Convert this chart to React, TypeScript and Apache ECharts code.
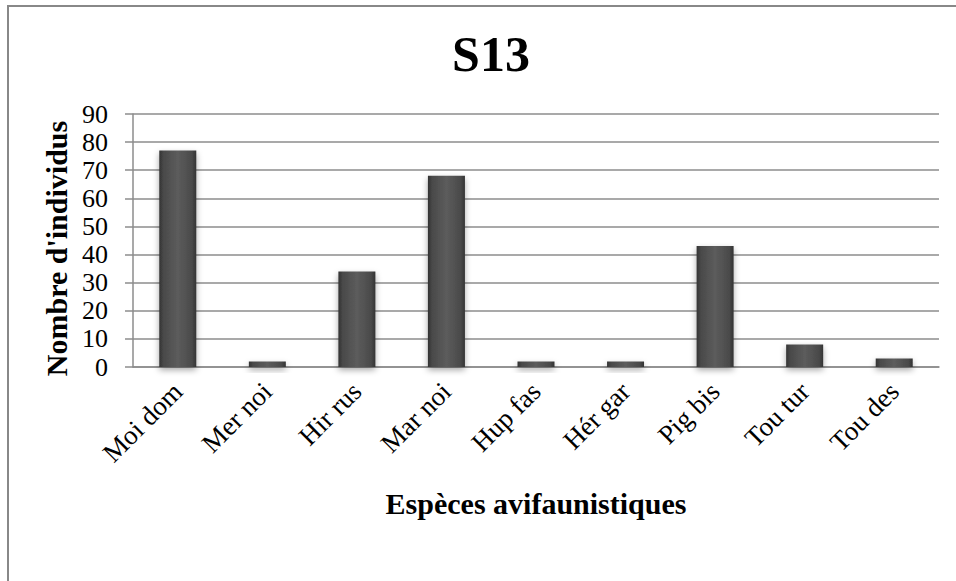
import React, { useEffect, useRef } from "react";
import * as echarts from "echarts";

const categories = ["Moi dom", "Mer noi", "Hir rus", "Mar noi", "Hup fas", "Hér gar", "Pig bis", "Tou tur", "Tou des"];
const values = [77, 2, 34, 68, 2, 2, 43, 8, 3];
const yTicks = { min: 0, max: 90, interval: 10 };
const titleText = "S13";
const yName = "Nombre d'individus";
const xName = "Espèces avifaunistiques";

const FONT = "'Liberation Serif', 'Times New Roman', serif";

export default function App() {
  const ref = useRef<HTMLDivElement>(null);
  useEffect(() => {
    if (!ref.current) return;
    const chart = echarts.init(ref.current, null, { renderer: "svg" });
    chart.setOption({
      animation: false,
      backgroundColor: "#ffffff",
      graphic: [
        {
          type: "rect",
          shape: { x: 8, y: 6, width: 970, height: 620 },
          style: { fill: "none", stroke: "#888888", lineWidth: 2 },
          silent: true,
        },
      ],
      title: {
        text: titleText,
        left: 486,
        top: 24,
        textAlign: "center",
        textStyle: { fontFamily: FONT, fontSize: 50, fontWeight: "bold", color: "#000" },
      },
      grid: { left: 133, right: 17, top: 114, bottom: 214, containLabel: false },
      xAxis: {
        type: "category",
        data: categories,
        name: xName,
        nameLocation: "middle",
        nameGap: 121,
        nameTextStyle: { fontFamily: FONT, fontSize: 30, fontWeight: "bold", color: "#000" },
        axisLine: { show: true, lineStyle: { color: "#8c8c8c", width: 1.5 } },
        axisTick: { show: false },
        axisLabel: {
          rotate: 45,
          margin: 20,
          interval: 0,
          fontFamily: FONT,
          fontSize: 27,
          color: "#000",
        },
      },
      yAxis: {
        type: "value",
        min: yTicks.min,
        max: yTicks.max,
        interval: yTicks.interval,
        name: yName,
        nameLocation: "middle",
        nameRotate: 90,
        nameGap: 61,
        nameTextStyle: { fontFamily: FONT, fontSize: 30, fontWeight: "bold", color: "#000", padding: [0, 16, 0, 0] },
        axisLine: { show: true, lineStyle: { color: "#8c8c8c", width: 1.5 } },
        axisTick: { show: true, inside: false, length: 8, lineStyle: { color: "#8c8c8c", width: 1.5 } },
        axisLabel: { fontFamily: FONT, fontSize: 26, color: "#000", margin: 25 },
        splitLine: { show: true, lineStyle: { color: "#8c8c8c", width: 1.5 } },
      },
      series: [
        {
          type: "bar",
          data: values,
          barWidth: 37,
          itemStyle: {
            color: new echarts.graphic.LinearGradient(0, 0, 1, 0, [
              { offset: 0, color: "#333333" },
              { offset: 0.12, color: "#4a4a4a" },
              { offset: 0.5, color: "#5c5c5c" },
              { offset: 0.88, color: "#4a4a4a" },
              { offset: 1, color: "#333333" },
            ]),
            shadowBlur: 6,
            shadowColor: "rgba(0,0,0,0.35)",
            shadowOffsetY: 3,
          },
        },
      ],
    });
    return () => chart.dispose();
  }, []);
  return <div ref={ref} style={{ position: "absolute", left: 0, top: 0, width: 956, height: 581 }} />;
}
